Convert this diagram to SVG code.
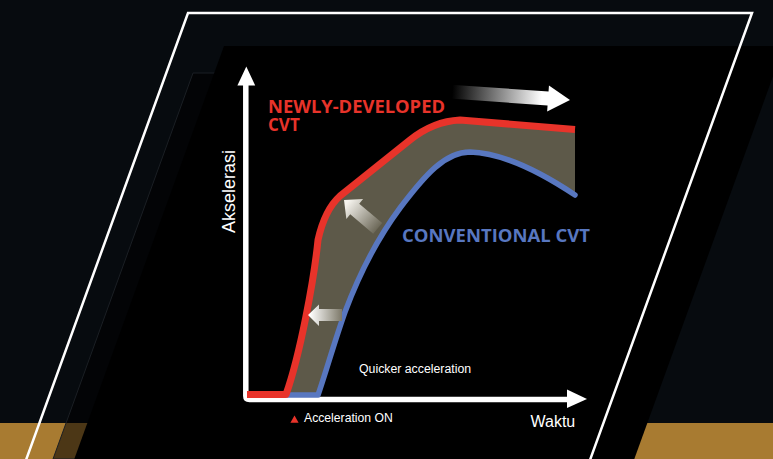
<svg xmlns="http://www.w3.org/2000/svg" width="773" height="459" viewBox="0 0 773 459">
<defs>
  <linearGradient id="gTop" gradientUnits="userSpaceOnUse" x1="-118" y1="0" x2="-28" y2="0">
    <stop offset="0" stop-color="#000"/>
    <stop offset="1" stop-color="#fff"/>
  </linearGradient>
  <linearGradient id="gDiag" gradientUnits="userSpaceOnUse" x1="4" y1="0" x2="44" y2="0">
    <stop offset="0" stop-color="#f6f4ee"/>
    <stop offset="1" stop-color="#6d6959"/>
  </linearGradient>
  <linearGradient id="gLeft" gradientUnits="userSpaceOnUse" x1="310" y1="0" x2="342" y2="0">
    <stop offset="0" stop-color="#ffffff"/>
    <stop offset="1" stop-color="#7c7868"/>
  </linearGradient>
</defs>
<style>
  .lbl{font-family:"Liberation Sans",Arial,sans-serif;fill:#fff}
  .hd{font-family:"Open Sans","Noto Sans",sans-serif;font-weight:700;font-size:17px}
  .axis{fill:none;stroke:#fff;stroke-width:5.5;stroke-linejoin:round}
</style>

<g id="background">
  <rect width="773" height="459" fill="#070b0f"/>
  <rect y="423" width="773" height="36" fill="#a87b31"/>
  <polygon points="193,73 330,73 330,459 53,459" fill="#000" fill-opacity="0.55" stroke="#1b1f24" stroke-width="1"/>
  <polygon points="224,46 784,46 634.3,459 74.3,459" fill="#000"/>
  <path d="M22.4,470 L188,13 L752,13 L586.4,470" fill="none" stroke="#fff" stroke-width="2.5"/>
</g>

<g id="band">
  <path d="M286,394.5 C300,355 314,280 318,240 C322,222 330,205 340,196 L410,140 C425,128 440,121 460,120 L575,129.5 L575,196 C545,175 505,153 470,152 C445,152 425,175 400,208 C380,235 360,272 345,312 C335,340 325,375 318,395 Z" fill="#5d5949"/>
</g>

<g id="axes">
  <path class="axis" d="M245.8,84 V396 Q245.8,399.5 249.5,399.5 H569"/>
  <polygon points="246.3,66.5 255.2,85.5 237.4,85.5" fill="#fff"/>
  <polygon points="587,399 567,389.5 567,408" fill="#fff"/>
</g>

<g id="curves">
  <path id="conventional" d="M287,395 H318 C325,375 335,340 345,312 C360,272 380,235 400,208 C425,175 445,152 470,152 C505,153 545,175 575,195" fill="none" stroke="#5877c0" stroke-width="5.5" stroke-linecap="round" stroke-linejoin="round"/>
  <path id="newly" d="M247,394.5 H286 C300,355 314,280 318,240 C322,222 330,205 340,196 L410,140 C425,128 440,121 460,120 L575,129.5" fill="none" stroke="#e8332a" stroke-width="7" stroke-linejoin="round"/>
</g>

<g id="arrows">
  <path transform="translate(570,100) rotate(4)" d="M0,0 L-22,-13 L-22,-7 L-120,-7 L-120,7 L-22,7 L-22,13 Z" fill="url(#gTop)"/>
  <path transform="translate(344,200) rotate(40)" d="M0,0 L14,-13 L14,-7 L44,-7 L44,7 L14,7 L14,13 Z" fill="url(#gDiag)"/>
  <path d="M308,315 L319,304.5 L319,309 L342,309 L342,321 L319,321 L319,326 Z" fill="url(#gLeft)"/>
</g>

<g id="labels">
  <text class="hd" x="268" y="112.7" fill="#e8332a" textLength="177" lengthAdjust="spacingAndGlyphs">NEWLY-DEVELOPED</text>
  <text class="hd" x="268" y="130.5" fill="#e8332a">CVT</text>
  <text class="hd" x="402" y="241.7" fill="#5877c0" textLength="188" lengthAdjust="spacingAndGlyphs">CONVENTIONAL CVT</text>
  <text class="lbl" transform="translate(235,233) rotate(-90)" font-size="18">Akselerasi</text>
  <text class="lbl" x="530.5" y="426.7" font-size="16">Waktu</text>
  <text class="lbl" x="359" y="373.3" font-size="12.3">Quicker acceleration</text>
  <polygon points="294.5,415.5 298.6,422.7 290.4,422.7" fill="#e8332a"/>
  <text class="lbl" x="304" y="421.7" font-size="12.2">Acceleration ON</text>
</g>
</svg>
